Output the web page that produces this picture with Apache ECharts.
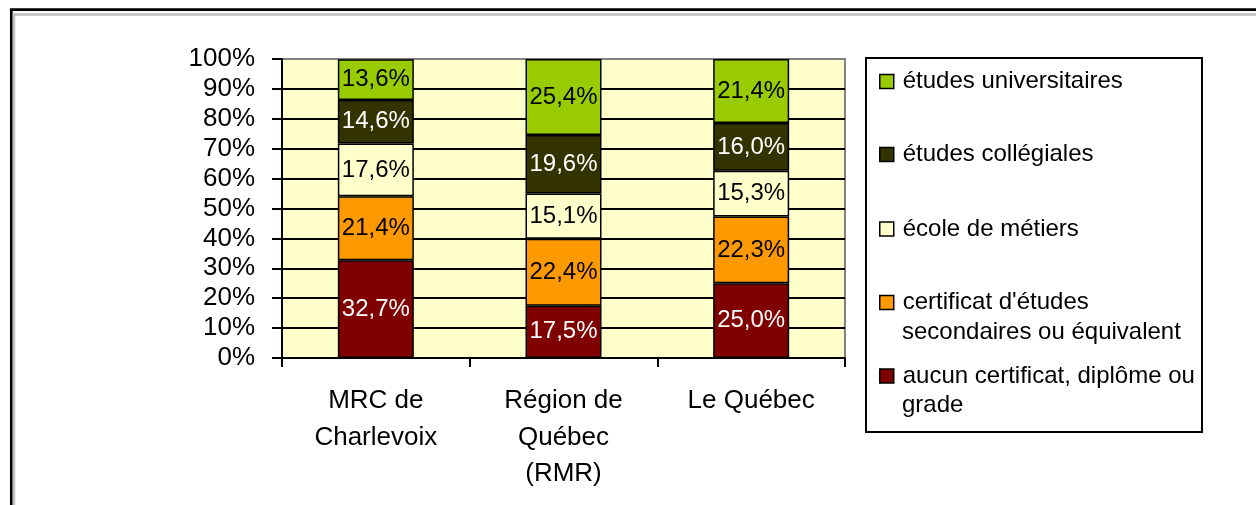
<!DOCTYPE html>
<html>
<head>
<meta charset="utf-8">
<script src="https://cdn.jsdelivr.net/npm/echarts@6/dist/echarts.min.js"></script>
<style>
  html, body { margin: 0; padding: 0; background: #fff; }
  #chart { width: 1256px; height: 505px; }
</style>
</head>
<body>
<div id="chart"></div>
<script>
// ---- Data ----
const categories = ['MRC de\nCharlevoix', 'Région de\nQuébec\n(RMR)', 'Le Québec'];
const seriesNames = [
  'aucun certificat, diplôme ou grade',
  "certificat d'études secondaires ou équivalent",
  'école de métiers',
  'études collégiales',
  'études universitaires'
];
const legendFirstLines = [
  'aucun certificat, diplôme ou',
  "certificat d'études",
  'école de métiers',
  'études collégiales',
  'études universitaires'
];
const legendSecondLines = ['grade', 'secondaires ou équivalent', '', '', ''];
const aucunValues = [32.7, 17.5, 25.0];
const certificatValues = [21.4, 22.4, 22.3];
const ecoleValues = [17.6, 15.1, 15.3];
const collegialesValues = [14.6, 19.6, 16.0];
const universitairesValues = [13.6, 25.4, 21.4];
const seriesValues = [aucunValues, certificatValues, ecoleValues, collegialesValues, universitairesValues];

// ---- Styles ----
const FONT = "'Liberation Sans', Arial, sans-serif";
const colors = ['#800000', '#FF9900', '#FFFFCC', '#333300', '#99CC00'];
const labelColors = ['#FFFFFF', '#000000', '#000000', '#FFFFFF', '#000000'];
const fmt = v => v.toFixed(1).replace('.', ',') + '%';

const chart = echarts.init(document.getElementById('chart'), null, { renderer: 'canvas' });

const series = seriesNames.map((name, i) => ({
  name: name,
  type: 'bar',
  stack: 'total',
  barWidth: 76,
  data: seriesValues[i],
  itemStyle: { color: colors[i], borderColor: '#000', borderWidth: 1.5 },
  label: {
    show: true,
    position: 'inside',
    formatter: p => fmt(p.value),
    color: labelColors[i],
    fontSize: 24,
    fontFamily: FONT
  },
  emphasis: { disabled: true }
}));

// legend: top to bottom = reverse of stack order
const legendOrder = [4, 3, 2, 1, 0];
const legendCenters = [81.5, 154.5, 229, 302.5, 376];
const LEGEND_LH = 30;
const legends = legendOrder.map((si, k) => ({
  data: [seriesNames[si]],
  left: 879,
  top: legendCenters[k] - LEGEND_LH / 2,
  orient: 'vertical',
  padding: 0,
  itemWidth: 14,
  itemHeight: 14,
  icon: 'rect',
  selectedMode: false,
  itemStyle: { borderColor: '#000', borderWidth: 1.5 },
  formatter: () => legendFirstLines[si],
  textStyle: { fontSize: 24, fontFamily: FONT, color: '#000', lineHeight: LEGEND_LH, padding: [0, 0, 0, 4] }
}));

const secondLineGraphics = [];
legendOrder.forEach((si, k) => {
  if (legendSecondLines[si]) {
    secondLineGraphics.push({
      type: 'text', left: 902, top: legendCenters[k] + 29.5 - LEGEND_LH / 2, silent: true,
      style: { text: legendSecondLines[si], font: '24px ' + FONT, fill: '#000', lineHeight: LEGEND_LH, verticalAlign: 'top' }
    });
  }
});

chart.setOption({
  animation: false,
  backgroundColor: '#FFFFFF',
  graphic: [
    { type: 'rect', shape: { x: 11.3, y: 9.6, width: 1400, height: 700 }, style: { fill: 'none', stroke: '#000', lineWidth: 2.7 }, silent: true },
    { type: 'rect', shape: { x: 14, y: 14.5, width: 1400, height: 700 }, style: { fill: 'none', stroke: '#C0C0C0', lineWidth: 2.4 }, silent: true },
    { type: 'rect', shape: { x: 866, y: 58, width: 336, height: 374 }, style: { fill: '#fff', stroke: '#000', lineWidth: 2 }, silent: true, z: -1 }
  ].concat(secondLineGraphics),
  legend: legends,
  grid: {
    left: 282, right: 411, top: 59, bottom: 147,
    show: true,
    backgroundColor: '#FFFFCC',
    borderColor: '#808080',
    borderWidth: 2
  },
  xAxis: {
    type: 'category',
    data: categories,
    axisLine: { lineStyle: { color: '#000', width: 2 } },
    axisTick: { show: true, length: 9, lineStyle: { color: '#000', width: 2 } },
    axisLabel: { fontSize: 26, fontFamily: FONT, color: '#000', lineHeight: 36.5, margin: 25, interval: 0 }
  },
  yAxis: {
    type: 'value',
    min: 0, max: 100, interval: 10,
    axisLine: { show: true, lineStyle: { color: '#000', width: 2 } },
    axisTick: { show: true, length: 10, lineStyle: { color: '#000', width: 2 } },
    axisLabel: { fontSize: 26, fontFamily: FONT, color: '#000', margin: 27, formatter: '{value}%' },
    splitLine: { show: true, showMaxLine: false, lineStyle: { color: '#000', width: 2 } }
  },
  series: series
});
</script>
</body>
</html>
